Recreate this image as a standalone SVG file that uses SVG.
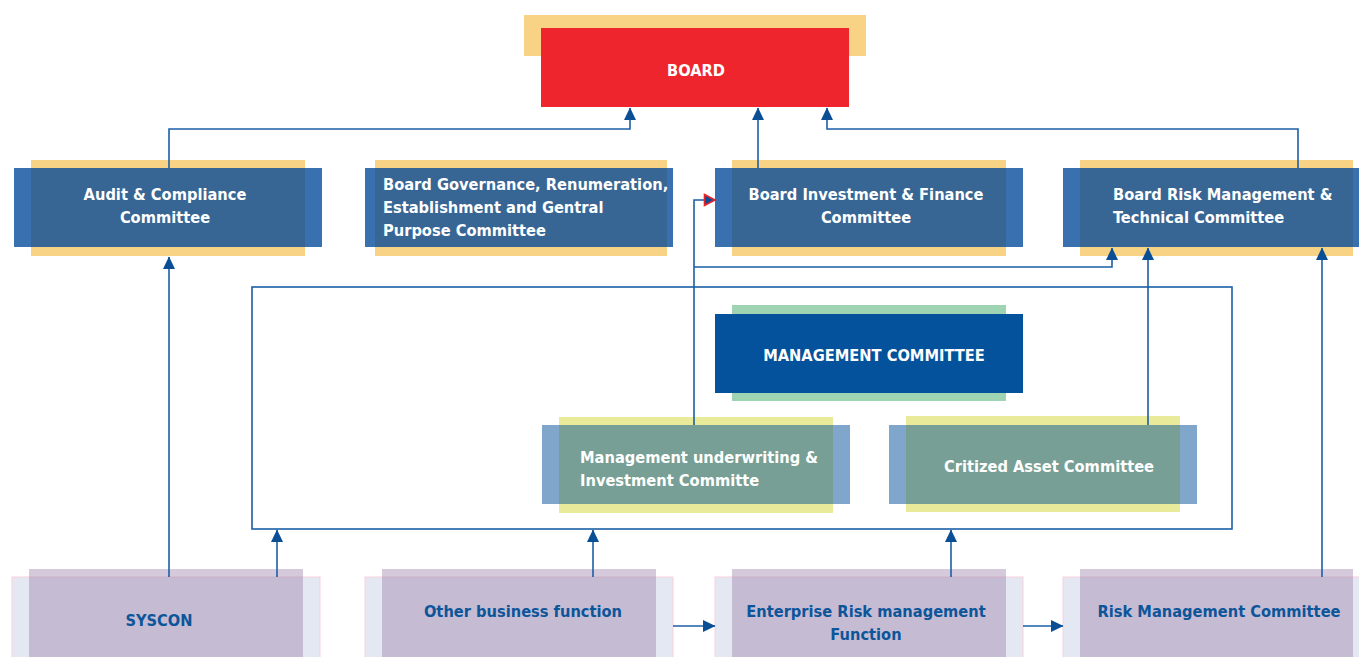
<svg xmlns="http://www.w3.org/2000/svg" width="1359" height="657" viewBox="0 0 1359 657">
<style>
.t{font-family:"Liberation Sans Narrow","DejaVu Sans Condensed","Liberation Sans",sans-serif;font-weight:bold;font-size:16.3px}
.w{fill:#ffffff}
.d{fill:#0d5599}
.m{text-anchor:middle}
.ylw{fill:#f8d386}
.cb{fill:#00489a;fill-opacity:0.78}
.lg{fill:#eaeb9a}
.lb{fill:#80a6cb}
.ov{fill:#779f95}
.pb{fill:#e4e8f2;stroke:#f8cfdb;stroke-width:1}
.pf{fill:#9c7fac;fill-opacity:0.42}
.ln{fill:none;stroke:#1b5fa6;stroke-width:1.6}
</style>
<defs>
<marker id="ah" markerUnits="userSpaceOnUse" markerWidth="13" markerHeight="13" viewBox="0 0 13 13" refX="12" refY="6.5" orient="auto">
<path d="M0,0.5 L12.5,6.5 L0,12.5 Z" fill="#0a4f96"/>
</marker>
<marker id="ahr" markerUnits="userSpaceOnUse" markerWidth="14" markerHeight="14" viewBox="0 0 14 14" refX="12" refY="7" orient="auto">
<path d="M1.5,1.5 L12,7 L1.5,12.5 Z" fill="#0a4f96" stroke="#e8232a" stroke-width="1.6"/>
</marker>
</defs>
<rect width="1359" height="657" fill="#ffffff"/>

<g id="board">
<rect class="ylw" x="524" y="15" width="342" height="41"/>
<rect x="541" y="28" width="308" height="79" fill="#ee252d"/>
<text class="t w m" x="696" y="76">BOARD</text>
</g>

<g id="audit">
<rect class="ylw" x="31" y="160" width="274" height="96"/>
<rect class="cb" x="14" y="168" width="308" height="79"/>
<text class="t w m" x="165" y="200">Audit &amp; Compliance</text>
<text class="t w m" x="165" y="223">Committee</text>
</g>

<g id="governance">
<rect class="ylw" x="375" y="160" width="292" height="96"/>
<rect class="cb" x="365" y="168" width="308" height="79"/>
<text class="t w" x="383" y="190">Board Governance, Renumeration,</text>
<text class="t w" x="383" y="213">Establishment and Gentral</text>
<text class="t w" x="383" y="236">Purpose Committee</text>
</g>

<g id="investment">
<rect class="ylw" x="732" y="160" width="274" height="96"/>
<rect class="cb" x="715" y="168" width="308" height="79"/>
<text class="t w m" x="866" y="200">Board Investment &amp; Finance</text>
<text class="t w m" x="866" y="223">Committee</text>
</g>

<g id="risk-board">
<rect class="ylw" x="1080" y="160" width="273" height="96"/>
<rect class="cb" x="1063" y="168" width="296" height="79"/>
<text class="t w" x="1113" y="200">Board Risk Management &amp;</text>
<text class="t w" x="1113" y="223">Technical Committee</text>
</g>

<g id="management">
<rect x="732" y="305" width="274" height="96" fill="#9fd4b3"/>
<rect x="715" y="314" width="308" height="79" fill="#03529b"/>
<text class="t w m" x="874" y="361">MANAGEMENT COMMITTEE</text>
</g>

<g id="underwriting">
<rect class="lg" x="559" y="417" width="274" height="96"/>
<rect class="lb" x="542" y="425" width="308" height="79"/>
<rect class="ov" x="559" y="425" width="274" height="79"/>
<text class="t w" x="580" y="463">Management underwriting &amp;</text>
<text class="t w" x="580" y="486">Investment Committe</text>
</g>

<g id="critized">
<rect class="lg" x="906" y="416" width="274" height="96"/>
<rect class="lb" x="889" y="425" width="308" height="79"/>
<rect class="ov" x="906" y="425" width="274" height="79"/>
<text class="t w m" x="1049" y="472">Critized Asset Committee</text>
</g>

<g id="syscon">
<rect class="pb" x="12" y="577" width="308" height="90"/>
<rect class="pf" x="29" y="569" width="274" height="98"/>
<text class="t d m" x="159" y="626">SYSCON</text>
</g>

<g id="other">
<rect class="pb" x="365" y="577" width="308" height="90"/>
<rect class="pf" x="382" y="569" width="274" height="98"/>
<text class="t d m" x="523" y="617">Other business function</text>
</g>

<g id="enterprise">
<rect class="pb" x="715" y="577" width="308" height="90"/>
<rect class="pf" x="732" y="569" width="274" height="98"/>
<text class="t d m" x="866" y="617">Enterprise Risk management</text>
<text class="t d m" x="866" y="640">Function</text>
</g>

<g id="risk-committee">
<rect class="pb" x="1063" y="577" width="300" height="90"/>
<rect class="pf" x="1080" y="569" width="273" height="98"/>
<text class="t d m" x="1219" y="617">Risk Management Committee</text>
</g>

<g id="connectors">
<rect class="ln" x="252" y="287" width="980" height="242"/>
<polyline class="ln" points="169,168 169,129 630,129 630,108" marker-end="url(#ah)"/>
<polyline class="ln" points="758,168 758,108" marker-end="url(#ah)"/>
<polyline class="ln" points="1298,168 1298,129 827,129 827,108" marker-end="url(#ah)"/>
<polyline class="ln" points="694,425 694,200 715,200" marker-end="url(#ahr)"/>
<polyline class="ln" points="694,267 1112,267 1112,248" marker-end="url(#ah)"/>
<polyline class="ln" points="1148,425 1148,248" marker-end="url(#ah)"/>
<polyline class="ln" points="1322,577 1322,248" marker-end="url(#ah)"/>
<polyline class="ln" points="169,577 169,257" marker-end="url(#ah)"/>
<polyline class="ln" points="277,577 277,530" marker-end="url(#ah)"/>
<polyline class="ln" points="593,577 593,530" marker-end="url(#ah)"/>
<polyline class="ln" points="951,577 951,530" marker-end="url(#ah)"/>
<polyline class="ln" points="673,626 715,626" marker-end="url(#ah)"/>
<polyline class="ln" points="1023,626 1063,626" marker-end="url(#ah)"/>
</g>
</svg>
